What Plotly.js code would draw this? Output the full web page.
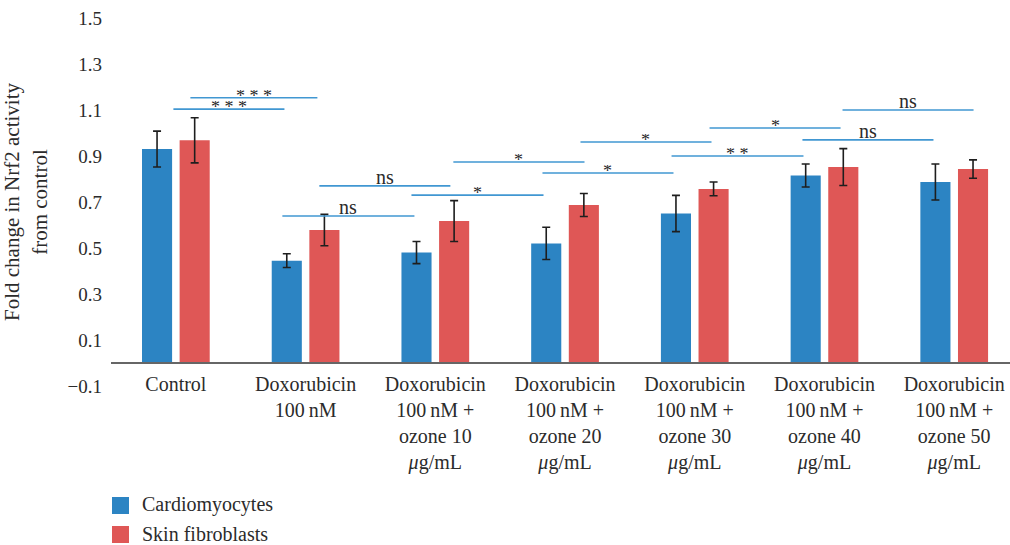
<!DOCTYPE html>
<html>
<head>
<meta charset="utf-8">
<script src="https://cdn.plot.ly/plotly-3.0.1.min.js"></script>
<style>
  html, body { margin: 0; padding: 0; background: #fff; }
  #chart { width: 1010px; height: 545px; }
</style>
</head>
<body>
<div id="chart"></div>
<script>
// Treatment groups shown along the x axis
const categories = [
  'Control',
  'Doxorubicin<br>100\u2009nM',
  'Doxorubicin<br>100\u2009nM +<br>ozone 10<br><i>\u03bc</i>g/mL',
  'Doxorubicin<br>100\u2009nM +<br>ozone 20<br><i>\u03bc</i>g/mL',
  'Doxorubicin<br>100\u2009nM +<br>ozone 30<br><i>\u03bc</i>g/mL',
  'Doxorubicin<br>100\u2009nM +<br>ozone 40<br><i>\u03bc</i>g/mL',
  'Doxorubicin<br>100\u2009nM +<br>ozone 50<br><i>\u03bc</i>g/mL'
];

const seriesNames = ['Cardiomyocytes', 'Skin fibroblasts'];

// Fold change in Nrf2 activity (mean) and error bar half-widths
const cardiomyocytes    = [0.930, 0.445, 0.480, 0.520, 0.650, 0.815, 0.787];
const cardiomyocytesErr = [0.078, 0.030, 0.048, 0.070, 0.079, 0.050, 0.078];
const fibroblasts       = [0.968, 0.578, 0.617, 0.687, 0.757, 0.852, 0.843];
const fibroblastsErr    = [0.098, 0.068, 0.089, 0.050, 0.030, 0.080, 0.040];

// Significance brackets: start/end (category index units), height, label
const sigStart = [0.112, -0.019, 1.106, 0.821, 2.139, 1.816, 3.119, 2.826, 3.821, 4.114, 4.830, 5.139];
const sigEnd   = [1.091,  0.837, 2.116, 1.839, 3.150, 2.834, 4.129, 3.836, 4.838, 5.124, 5.840, 6.149];
const sigLevel = [1.153,  1.104, 0.770, 0.639, 0.874, 0.730, 0.961, 0.826, 0.900, 1.022, 0.970, 1.100];
const sigText  = ['* * *', '* * *', 'ns', 'ns', '*', '*', '*', '*', '* *', '*', 'ns', 'ns'];

const yTicks = [-0.1, 0.1, 0.3, 0.5, 0.7, 0.9, 1.1, 1.3, 1.5];

const BLUE = '#2c84c3';
const RED = '#df5756';
const SIG = '#4197d2';
const TEXT = '#2b2b2b';
const SERIF = 'Liberation Serif, DejaVu Serif, serif';
const seriesColors = [BLUE, RED];

// page geometry (pixels) used to place the legend below the plot area
const W = 1010, H = 545;
const M = { l: 111, r: 0, t: 18, b: 159 };
const plotW = W - M.l - M.r, plotH = H - M.t - M.b;
const px2paperX = px => (px - M.l) / plotW;
const px2paperY = py => (H - M.b - py) / plotH;

const errStyle = { type: 'data', visible: true, color: '#1e1e1e', thickness: 1.6, width: 4 };

const traces = [
  {
    type: 'bar', name: seriesNames[0], x: categories, y: cardiomyocytes,
    marker: { color: BLUE },
    error_y: Object.assign({ array: cardiomyocytesErr }, errStyle)
  },
  {
    type: 'bar', name: seriesNames[1], x: categories, y: fibroblasts,
    marker: { color: RED },
    error_y: Object.assign({ array: fibroblastsErr }, errStyle)
  }
];

const shapes = sigStart.map((s, i) => ({
  type: 'line', xref: 'x', yref: 'y',
  x0: s, x1: sigEnd[i], y0: sigLevel[i], y1: sigLevel[i],
  line: { color: SIG, width: 1.6 }
}));

const annotations = sigStart.map((s, i) => {
  const isNs = sigText[i] === 'ns';
  return {
    xref: 'x', yref: 'y',
    x: (s + sigEnd[i]) / 2, y: sigLevel[i],
    text: sigText[i], showarrow: false,
    xanchor: 'center', yanchor: 'middle',
    height: isNs ? undefined : 12, valign: 'middle',
    yshift: isNs ? 9 : 2,
    font: { family: SERIF, size: isNs ? 20 : 18, color: TEXT }
  };
});

// legend: colour swatch + series name, stacked below the axis labels
seriesNames.forEach((name, i) => {
  const cy = 505.5 + i * 29;
  shapes.push({
    type: 'rect', xref: 'paper', yref: 'paper',
    x0: px2paperX(112), x1: px2paperX(129),
    y0: px2paperY(cy - 8.5), y1: px2paperY(cy + 8.5),
    fillcolor: seriesColors[i], line: { width: 0 }
  });
  annotations.push({
    xref: 'paper', yref: 'paper',
    x: px2paperX(140), y: px2paperY(cy - 1),
    xanchor: 'left', yanchor: 'middle', showarrow: false,
    text: name,
    font: { family: SERIF, size: 20, color: TEXT }
  });
});

const yMin = -0.1, yMax = 1.5;

const layout = {
  width: W, height: H,
  margin: { l: M.l, r: M.r, t: M.t, b: M.b, autoexpand: false },
  paper_bgcolor: '#fff', plot_bgcolor: '#fff',
  barmode: 'group', bargap: 0.42, bargroupgap: 0.2,
  font: { family: SERIF, size: 20, color: TEXT },
  showlegend: false,
  xaxis: {
    type: 'category',
    range: [-0.5, 6.43],
    anchor: 'free', position: (0 - yMin) / (yMax - yMin),
    showline: true, linecolor: '#666', linewidth: 2,
    ticks: '', showgrid: false, zeroline: false,
    ticklabelstandoff: 3,
    tickfont: { family: SERIF, size: 20, color: TEXT }
  },
  yaxis: {
    range: [yMin, yMax],
    tickvals: yTicks,
    ticktext: yTicks.map(v => (v < 0 ? '\u2212' : '') + Math.abs(v).toFixed(1)),
    showline: false, showgrid: false, zeroline: false, ticks: '',
    ticklabelstandoff: 8,
    tickfont: { family: SERIF, size: 19, color: TEXT },
    title: {
      text: 'Fold change in Nrf2 activity<br>from control',
      font: { family: SERIF, size: 21, color: TEXT },
      standoff: 14
    }
  },
  shapes: shapes,
  annotations: annotations
};

Plotly.newPlot('chart', traces, layout, { displayModeBar: false, staticPlot: true });
</script>
</body>
</html>
